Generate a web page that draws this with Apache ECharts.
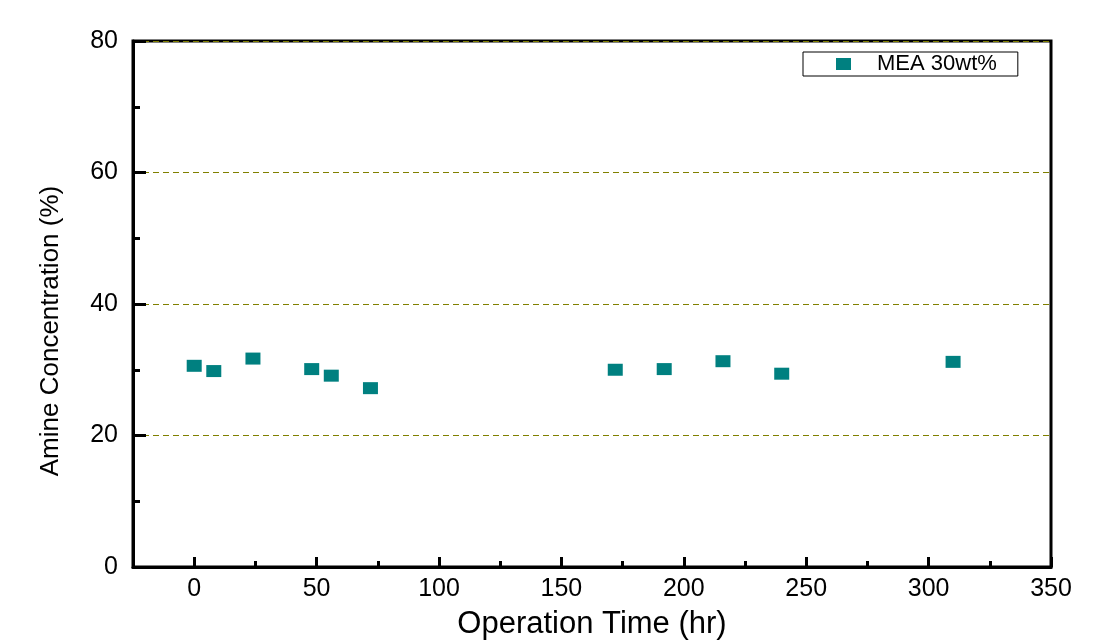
<!DOCTYPE html>
<html><head><meta charset="utf-8">
<script src="https://cdn.jsdelivr.net/npm/echarts@6/dist/echarts.min.js"></script>
<style>html,body{margin:0;padding:0;background:#fff}#c{width:1108px;height:643px}</style>
</head><body><div id="c"></div>
<script>
const seriesName = 'MEA 30wt%';
const timeHr = [0, 8, 24, 48, 56, 72, 172, 192, 216, 240, 310];
const concentration = [30.6, 29.8, 31.7, 30.1, 29.1, 27.2, 30.0, 30.1, 31.3, 29.4, 31.2];
const xMajorTicks = [0, 50, 100, 150, 200, 250, 300, 350];
const xMinorTicks = [25, 75, 125, 175, 225, 275, 325];
const xTitle = 'Operation Time (hr)';
const yTitle = 'Amine Concentration (%)';

const font = 'Liberation Sans, Arial, sans-serif';
const chart = echarts.init(document.getElementById('c'), null, {renderer: 'canvas'});
chart.setOption({
  animation: false,
  backgroundColor: '#fff',
  grid: {left: 133, right: 57, top: 41, bottom: 76, outerBoundsMode: 'none', containLabel: false,
    show: true, borderColor: '#000', borderWidth: 3, backgroundColor: 'transparent'},
  legend: {
    left: 803, top: 52, orient: 'horizontal',
    borderColor: '#000', borderWidth: 1, backgroundColor: '#fff',
    padding: [1, 21, 1, 33],
    itemWidth: 15, itemHeight: 12,
    textStyle: {fontFamily: font, fontSize: 22, color: '#000', padding: [0, 0, 0, 21]},
    data: [{name: seriesName, icon: 'rect'}]
  },
  xAxis: [{
    type: 'value', min: -25, max: 350,
    name: xTitle, nameLocation: 'middle', nameGap: 42,
    nameTextStyle: {fontFamily: font, fontSize: 31, color: '#000'},
    axisLine: {show: true, onZero: false, lineStyle: {color: '#000', width: 3}},
    axisTick: {show: true, inside: true, length: 10, lineStyle: {color: '#000', width: 3}, customValues: xMajorTicks},
    axisLabel: {fontFamily: font, fontSize: 25, color: '#000', margin: 10, customValues: xMajorTicks},
    splitLine: {show: false}
  }, {
    type: 'value', min: -25, max: 350, position: 'bottom',
    axisLine: {show: false, onZero: false},
    axisTick: {show: true, inside: true, length: 6, lineStyle: {color: '#000', width: 3}, customValues: xMinorTicks},
    axisLabel: {show: false},
    splitLine: {show: false}
  }],
  yAxis: {
    type: 'value', min: 0, max: 80, interval: 20,
    name: yTitle, nameLocation: 'middle', nameGap: 69, nameRotate: 90,
    nameTextStyle: {fontFamily: font, fontSize: 26, color: '#000', padding: [0, 54, 0, 0]},
    axisLine: {show: true, onZero: false, lineStyle: {color: '#000', width: 3}},
    axisTick: {show: true, inside: true, length: 13, lineStyle: {color: '#000', width: 3}},
    minorTick: {show: true, splitNumber: 2, length: 7, lineStyle: {color: '#000', width: 3}},
    axisLabel: {fontFamily: font, fontSize: 25, color: '#000', margin: 15},
    splitLine: {show: true, lineStyle: {color: '#808000', width: 1, type: [6, 4]}}
  },
  series: [{
    name: seriesName, type: 'scatter', xAxisIndex: 0,
    symbol: 'rect', symbolSize: [15, 12],
    itemStyle: {color: '#008080', opacity: 1},
    data: timeHr.map((t, i) => [t, concentration[i]])
  }]
});
</script></body></html>
